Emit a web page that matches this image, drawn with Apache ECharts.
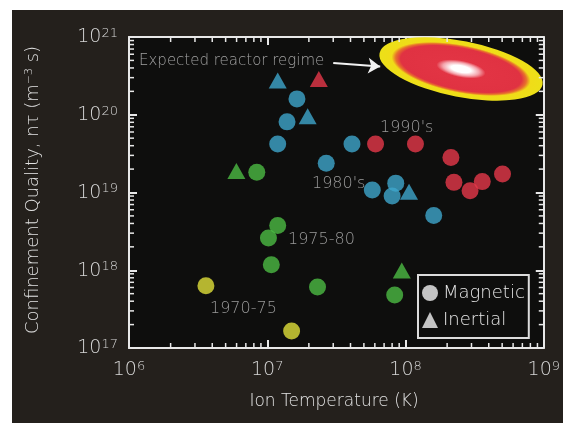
<!DOCTYPE html>
<html><head><meta charset="utf-8">
<script src="https://cdn.jsdelivr.net/npm/echarts@6/dist/echarts.min.js"></script>
<style>html,body{margin:0;padding:0;background:#fff;}#c{width:563px;height:423px;}</style>
</head><body><div id="c"></div>
<script>
// ---- axis ranges and tick helpers ----
const xRange = [1e6, 1e9];
const yRange = [1e17, 1e21];
const minorMultipliers = [2, 3, 4, 5, 6, 7, 8, 9];
const xDecades = [1e6, 1e7, 1e8];
const yDecades = [1e17, 1e18, 1e19, 1e20];

// ---- data: [ion temperature (K), n tau (m^-3 s)] ----
const magnetic1970_75 = [[3.6e6, 6.3e17], [1.5e7, 1.66e17]];
const magnetic1975_80 = [[8.4e6, 1.82e19], [1.19e7, 3.77e18], [1.02e7, 2.6e18], [1.07e7, 1.18e18], [2.31e7, 6.1e17], [8.35e7, 4.8e17]];
const magnetic1980s = [[1.64e7, 1.6e20], [1.39e7, 8.1e19], [1.19e7, 4.2e19], [4.1e7, 4.2e19], [2.67e7, 2.38e19], [5.75e7, 1.08e19], [8.5e7, 1.32e19], [8.0e7, 9.0e18], [1.6e8, 5.06e18]];
const magnetic1990s = [[6.07e7, 4.2e19], [1.18e8, 4.2e19], [2.13e8, 2.82e19], [2.24e8, 1.35e19], [2.93e8, 1.05e19], [3.59e8, 1.38e19], [5.03e8, 1.73e19]];
const inertial1975_80 = [[5.98e6, 1.89e19], [9.4e7, 9.9e17]];
const inertial1980s = [[1.19e7, 2.76e20], [1.96e7, 9.6e19], [1.06e8, 1.02e19]];
const inertial1990s = [[2.36e7, 2.88e20]];
const reactorRegimeCenter = [2.52e8, 3.88e20];
const arrowFrom = [3.0e7, 4.64e20];
const arrowTo = [6.56e7, 4.17e20];

// ---- styles ----
const C = { y70: '#e0e03a', g75: '#4cbc44', t80: '#3fa6cc', r90: '#e6384a' };
const FONT = 'DejaVu Sans';
const AX = '#e8e8e8';

function items(arr, color) { return arr.map(v => ({ value: v, itemStyle: { color } })); }

const xMinor = [], yMinor = [];
xDecades.forEach(d => minorMultipliers.forEach(m => xMinor.push([m * d, yRange[0]])));
yDecades.forEach(d => minorMultipliers.forEach(m => yMinor.push([xRange[0], m * d])));

const richLbl = {
  b: { fontSize: 19, fontFamily: FONT, fontWeight: 200, color: '#d6d6d6', padding: [6, 0, 0, 0], lineHeight: 20, verticalAlign: 'bottom' },
  s: { fontSize: 13, fontFamily: FONT, fontWeight: 200, color: '#d6d6d6', lineHeight: 14, verticalAlign: 'top' }
};
function pow10(v) { return '{b|10}{s|' + Math.round(Math.log10(v)) + '}'; }

function baseAxis(extra) {
  return Object.assign({
    type: 'log', logBase: 10,
    axisLine: { show: true, onZero: false, lineStyle: { color: AX, width: 2 } },
    axisTick: { show: true, inside: true, length: 8, lineStyle: { color: AX, width: 2 } },
    splitLine: { show: false },
    minorTick: { show: false }
  }, extra);
}

const chart = echarts.init(document.getElementById('c'), null, { renderer: 'canvas' });
chart.setOption({
  animation: false,
  backgroundColor: '#24201c',
  grid: { left: 129, right: 18, top: 37, bottom: 75, show: true, backgroundColor: '#0e0e0d', borderWidth: 0 },
  xAxis: [
    baseAxis({ min: xRange[0], max: xRange[1], position: 'bottom',
      axisLabel: { formatter: pow10, rich: richLbl, margin: 12 } }),
    baseAxis({ min: xRange[0], max: xRange[1], position: 'top', axisLabel: { show: false } })
  ],
  yAxis: [
    baseAxis({ min: yRange[0], max: yRange[1], position: 'left',
      axisLabel: { formatter: pow10, rich: richLbl, margin: 11 } }),
    baseAxis({ min: yRange[0], max: yRange[1], position: 'right', axisLabel: { show: false } })
  ],
  legend: {
    orient: 'vertical', left: 418, top: 275,
    backgroundColor: '#0e0e0d', borderColor: '#dcdcdc', borderWidth: 2, borderRadius: 0,
    padding: [9, 4, 9, 4], itemGap: 9, itemWidth: 16, itemHeight: 16,
    textStyle: { color: '#e8e8e8', fontSize: 18, fontFamily: FONT, fontWeight: 200 },
    data: [
      { name: 'Magnetic', icon: 'circle', itemStyle: { color: '#f2f2f2' } },
      { name: 'Inertial', icon: 'triangle', itemStyle: { color: '#f2f2f2' } }
    ]
  },
  graphic: [
    { type: 'rect', shape: { x: 0, y: 0, width: 12, height: 423 }, style: { fill: '#ffffff' }, silent: true },
    { type: 'rect', shape: { x: 0, y: 0, width: 563, height: 10 }, style: { fill: '#ffffff' }, silent: true },
    { type: 'text', x: 33, y: 190, rotation: Math.PI / 2, silent: true,
      style: { text: 'Confinement Quality, nτ (m{s|−3} s)', fill: '#e2e2e2', font: '200 18px "DejaVu Sans"',
        align: 'center', verticalAlign: 'middle', textAlign: 'center', textVerticalAlign: 'middle',
        rich: { s: { fontSize: 11, fontFamily: FONT, fontWeight: 200, fill: '#e2e2e2', verticalAlign: 'top', padding: [0, 0, 8, 0] } } } },
    { type: 'text', x: 334, y: 402, silent: true,
      style: { text: 'Ion Temperature (K)', fill: '#e2e2e2', font: '200 17px "DejaVu Sans"',
        align: 'center', verticalAlign: 'middle', textAlign: 'center', textVerticalAlign: 'middle' } },
    { type: 'text', x: 139, y: 61, silent: true, style: { text: 'Expected reactor regime', fill: '#a0a0a0', font: '200 15px "DejaVu Sans"', verticalAlign: 'middle', textVerticalAlign: 'middle' } },
    { type: 'text', x: 380, y: 128, silent: true, style: { text: "1990's", fill: '#9a9a9a', font: '200 16px "DejaVu Sans"', verticalAlign: 'middle', textVerticalAlign: 'middle' } },
    { type: 'text', x: 312, y: 184, silent: true, style: { text: "1980's", fill: '#9a9a9a', font: '200 16px "DejaVu Sans"', verticalAlign: 'middle', textVerticalAlign: 'middle' } },
    { type: 'text', x: 288, y: 240, silent: true, style: { text: '1975-80', fill: '#9a9a9a', font: '200 16px "DejaVu Sans"', verticalAlign: 'middle', textVerticalAlign: 'middle' } },
    { type: 'text', x: 210, y: 309, silent: true, style: { text: '1970-75', fill: '#9a9a9a', font: '200 16px "DejaVu Sans"', verticalAlign: 'middle', textVerticalAlign: 'middle' } }
  ],
  series: [
    {
      type: 'custom', name: 'regime', coordinateSystem: 'cartesian2d', clip: false, silent: true, z: 2,
      data: [reactorRegimeCenter],
      renderItem: function (params, api) {
        const p = api.coord([api.value(0), api.value(1)]);
        return {
          type: 'circle', x: p[0], y: p[1], rotation: -11 * Math.PI / 180, scaleX: 83 / 28, scaleY: 1,
          shape: { cx: 0, cy: 0, r: 28 },
          style: { fill: { type: 'radial', x: 0.5, y: 0.5, r: 0.5, colorStops: [
            { offset: 0, color: '#ffffff' }, { offset: 0.12, color: '#ffffff' },
            { offset: 0.22, color: '#f4a4ac' }, { offset: 0.3, color: '#e23444' },
            { offset: 0.74, color: '#e03242' }, { offset: 0.8, color: '#e8702c' },
            { offset: 0.85, color: '#f0dc18' }, { offset: 1, color: '#ece018' } ] } }
        };
      },
      markLine: {
        silent: true, symbol: ['none', 'arrow'], symbolSize: [12, 12],
        label: { show: false },
        lineStyle: { color: '#f2f2f2', width: 2, type: 'solid' },
        data: [[{ coord: arrowFrom }, { coord: arrowTo }]]
      }
    },
    {
      type: 'custom', name: 'xminor', coordinateSystem: 'cartesian2d', clip: false, silent: true, z: 3,
      data: xMinor,
      renderItem: function (params, api) {
        const v = api.value(0);
        const pb = api.coord([v, yRange[0]]), pt = api.coord([v, yRange[1]]);
        const st = { stroke: AX, lineWidth: 1.5 };
        return { type: 'group', children: [
          { type: 'line', shape: { x1: pb[0], y1: pb[1], x2: pb[0], y2: pb[1] - 5 }, style: st },
          { type: 'line', shape: { x1: pt[0], y1: pt[1], x2: pt[0], y2: pt[1] + 5 }, style: st } ] };
      }
    },
    {
      type: 'custom', name: 'yminor', coordinateSystem: 'cartesian2d', clip: false, silent: true, z: 3,
      data: yMinor,
      renderItem: function (params, api) {
        const v = api.value(1);
        const pl = api.coord([xRange[0], v]), pr = api.coord([xRange[1], v]);
        const st = { stroke: AX, lineWidth: 1.5 };
        return { type: 'group', children: [
          { type: 'line', shape: { x1: pl[0], y1: pl[1], x2: pl[0] + 5, y2: pl[1] }, style: st },
          { type: 'line', shape: { x1: pr[0], y1: pr[1], x2: pr[0] - 5, y2: pr[1] }, style: st } ] };
      }
    },
    {
      type: 'scatter', name: 'Magnetic', symbol: 'circle', symbolSize: 17, z: 5,
      emphasis: { disabled: true },
      data: [].concat(items(magnetic1970_75, C.y70), items(magnetic1975_80, C.g75), items(magnetic1980s, C.t80), items(magnetic1990s, C.r90))
    },
    {
      type: 'scatter', name: 'Inertial', symbol: 'triangle', symbolSize: [18, 16], z: 5,
      emphasis: { disabled: true },
      data: [].concat(items(inertial1975_80, C.g75), items(inertial1980s, C.t80), items(inertial1990s, C.r90))
    }
  ]
});
</script></body></html>
